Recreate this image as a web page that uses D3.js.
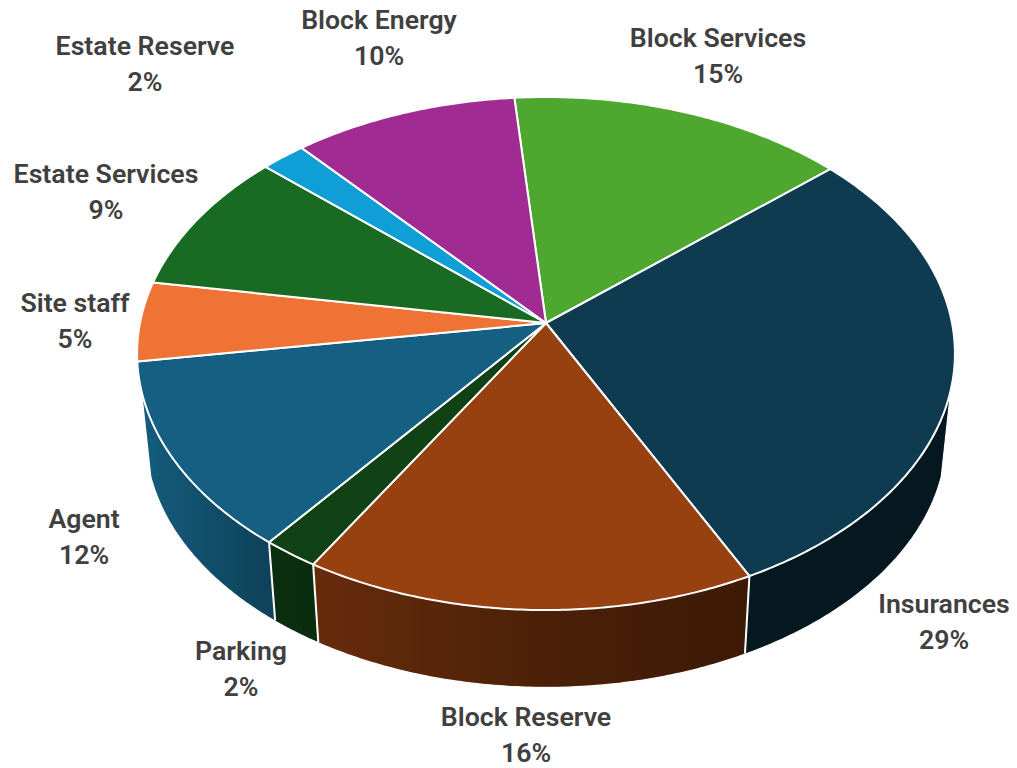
<!DOCTYPE html>
<html>
<head>
<meta charset="utf-8">
<script src="https://cdn.jsdelivr.net/npm/d3@7/dist/d3.min.js"></script>
<style>
  html, body { margin: 0; padding: 0; background: #fff; }
  svg { display: block; }
  text { font-family: Roboto, "Open Sans", sans-serif; font-weight: 600; font-size: 26.7px; fill: #404040; }
</style>
</head>
<body>
<svg id="chart" width="1017" height="768"></svg>
<script>
// Service charge breakdown, percent of total
const categories = ["Block Services", "Insurances", "Block Reserve", "Parking", "Agent",
                    "Site staff", "Estate Services", "Estate Reserve", "Block Energy"];
const shares = [15, 29, 16, 2, 12, 5, 9, 2, 10];
const sliceColors = ["#4EA72E", "#0E3B50", "#974010", "#104216", "#156082",
                     "#EE7335", "#196B24", "#0F9ED5", "#A02B93"];

// Where each two-line label is centred, in category order
const labelCentres = [[718, 56], [944, 622], [526, 735], [241, 669], [84, 537],
                      [75, 321], [106, 192], [145, 64], [379, 38]];

const W = 1017, H = 768;
const svg = d3.select("#chart").attr("viewBox", [0, 0, W, H]);

// Tilted disc: a unit circle seen in perspective, apex of the pie at (546, 323)
const tilt = 0.119;
const xScale = d3.scaleLinear().domain([-1, 1]).range([546 - 406, 546 + 406]);
const yScale = d3.scaleLinear().domain([-1, 1]).range([323 + 252.9, 323 - 252.9]);
const floorScale = 0.978, floorDrop = 83;

function rimTop(a) {
  const u = Math.sin(a), v = Math.cos(a), w = 1 + tilt * v;
  return [xScale(u / w), yScale(v / w)];
}
function rimFloor(a) {
  const [x, y] = rimTop(a);
  return [546 + (x - 546) * floorScale, 323 + (y - 323) * floorScale + floorDrop];
}
function arcAngles(start, end) {
  const n = Math.max(4, Math.ceil((end - start) / 0.01));
  return d3.range(n + 1).map(i => start + (end - start) * i / n);
}

const rad = Math.PI / 180;
const startDeg = -5;
const pie = d3.pie().sort(null)
  .startAngle(startDeg * rad)
  .endAngle((startDeg + 360) * rad);
const slices = pie(shares);
const line = d3.line();

// The wall is only seen between the two points where its outline leaves the rim
const wallFrom = 106 * rad, wallTo = 254 * rad;

// Shade on the side wall deepens from left to right across the whole disc
const defs = svg.append("defs");
const shade = defs.append("linearGradient").attr("id", "wallShade")
  .attr("gradientUnits", "userSpaceOnUse")
  .attr("x1", 137).attr("x2", 955).attr("y1", 0).attr("y2", 0);
[[137, 0.03], [260, 0.3], [316, 0.32], [545, 0.5], [750, 0.6], [955, 0.62]].forEach(([x, o]) => {
  shade.append("stop").attr("offset", (x - 137) / 818).attr("stop-color", "#000").attr("stop-opacity", o);
});

const frontSlices = slices
  .map((d, i) => ({ index: i,
                    start: Math.max(d.startAngle, wallFrom),
                    end: Math.min(d.endAngle, wallTo) }))
  .filter(d => d.end > d.start);

const wallPath = d => {
  const as = arcAngles(d.start, d.end);
  return line(as.map(rimTop).concat(as.slice().reverse().map(rimFloor))) + "Z";
};

// Side walls first, then the top surface
const walls = svg.append("g");
walls.selectAll("path.wall").data(frontSlices).join("path")
  .attr("class", "wall").attr("d", wallPath).attr("fill", d => sliceColors[d.index]);
walls.selectAll("path.shade").data(frontSlices).join("path")
  .attr("class", "shade").attr("d", wallPath).attr("fill", "url(#wallShade)");

// White seams between slices on the front of the wall
const seams = slices.map(d => d.startAngle).filter(a => a > wallFrom && a < wallTo);
walls.selectAll("path.seam").data(seams).join("path")
  .attr("class", "seam")
  .attr("d", a => line([rimTop(a), rimFloor(a)]))
  .attr("fill", "none").attr("stroke", "#fff").attr("stroke-width", 2);

// Top surface
svg.append("g").selectAll("path").data(slices).join("path")
  .attr("d", d => line([[546, 323]].concat(arcAngles(d.startAngle, d.endAngle).map(rimTop))) + "Z")
  .attr("fill", (d, i) => sliceColors[i])
  .attr("stroke", "#fff").attr("stroke-width", 2).attr("stroke-linejoin", "round");

// Category and percentage labels
const labels = svg.append("g").selectAll("g").data(slices).join("g")
  .attr("transform", (d, i) => `translate(${labelCentres[i]})`)
  .attr("text-anchor", "middle");
labels.append("text").attr("y", -9).text((d, i) => categories[i]);
labels.append("text").attr("y", 27).text(d => d.data + "%");
</script>
</body>
</html>
